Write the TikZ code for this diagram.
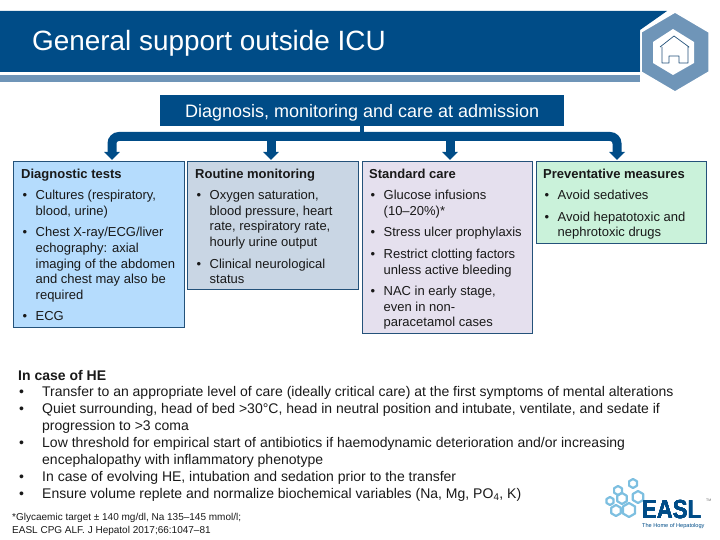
\documentclass[tikz,border=0pt]{standalone}
\usepackage{fontspec}
\setmainfont{Liberation Sans}
\usetikzlibrary{arrows.meta}
\definecolor{easldark}{HTML}{004C87}
\definecolor{easlmid}{HTML}{6F95B8}
\definecolor{easlsky}{HTML}{7DBFE0}
\definecolor{edgeblue}{HTML}{24527A}
\definecolor{diagfill}{HTML}{B5DCFD}
\definecolor{routinefill}{HTML}{C9D6E4}
\definecolor{standardfill}{HTML}{E5E0EE}
\definecolor{preventfill}{HTML}{CAF2DA}
\tikzset{>={Triangle[width=15.5pt,length=8pt]}}
\tikzset{
    panel/.style={draw=edgeblue, line width=0.9pt, anchor=north west, inner sep=0pt},
    paneltext/.style={anchor=north west, inner sep=0pt, font=\fontsize{13}{15.7}\selectfont, align=left, text=black!90},
    busline/.style={draw=easldark, line width=9pt},
    bodytext/.style={anchor=north west, inner sep=0pt, font=\fontsize{14}{16.9}\selectfont, align=left, text=black!90},
}
\setlength{\lineskip}{0pt}
\newcommand{\bitem}[2]{\makebox[14.5pt][l]{\hspace{1.5pt}\textbullet}\parbox[t]{#1}{\raggedright\strut #2\strut}}
\newcommand{\helist}[1]{\makebox[24pt][l]{\hspace{1pt}•}\parbox[t]{670pt}{\strut #1\strut}}
\newcommand{\heximg}[4]{\draw[#4] (#1,#2) ++(30:#3) -- ++(90:#3) -- ++(150:#3) -- ++(210:#3) -- ++(270:#3) -- ++(330:#3) -- cycle;}
\begin{document}
\begin{tikzpicture}[x=1pt,y=-1pt]
	\useasboundingbox (0,0) rectangle (720,540);
	% header
	\fill[easldark] (0,11) -- (667,11) -- (640,30) -- (640,72) -- (0,72) -- cycle;
	\fill[easlmid] (0,75) rectangle (640,82);
	\fill[easlmid, draw=white, line width=1.5pt] (675,12) -- (709,32) -- (709,72) -- (675,92) -- (641,72) -- (641,32) -- cycle;
	\fill[white] (673,29) -- (694,42) -- (694,63) -- (673,75) -- (653,63) -- (653,42) -- cycle;
	\draw[edgeblue, line width=0.7pt, line join=round] (660,47) -- (674,36) -- (689,47) -- (688,47) -- (688,63) -- (679,63) -- (679,56) -- (669,56) -- (669,63) -- (662,63) -- (662,47);
	\node[anchor=base west, inner sep=0pt, text=white, font=\fontsize{27.9}{30}\selectfont] (title) at (32,51) {General support outside ICU};
	% top box and arrows
	\node[fill=easldark, anchor=north west, inner sep=0pt, minimum width=404pt, minimum height=31pt, text=white, font=\fontsize{18}{21}\selectfont, text height=15pt, text depth=2pt] (admission) at (160,95) {Diagnosis, monitoring and care at admission};
	\coordinate (busleft) at (112,136.5);
	\coordinate (busright) at (617,136.5);
	\coordinate (endA) at (112,160);
	\coordinate (endB) at (271,160);
	\coordinate (endC) at (450,160);
	\coordinate (endD) at (617,160);
	\coordinate (stem) at (362,136.5);
	\draw[busline, rounded corners=7pt, ->] (busleft -| stem) -- (busleft) -- (endA);
	\draw[busline, rounded corners=7pt, ->] (busright -| stem) -- (busright) -- (endD);
	\draw[busline, ->] (busleft -| endB) -- (endB);
	\draw[busline, ->] (busleft -| endC) -- (endC);
	\draw[draw=easldark, line width=4pt] (admission.south -| stem) -- (stem);
	% four panels
	\node[panel, fill=diagfill, minimum width=171pt, minimum height=166pt] (diag) at (13,161) {};
	\node[panel, fill=routinefill, minimum width=171pt, minimum height=128pt] (routine) at (187,161) {};
	\node[panel, fill=standardfill, minimum width=170pt, minimum height=172pt] (standard) at (362,161) {};
	\node[panel, fill=preventfill, minimum width=170pt, minimum height=82pt] (prevent) at (536,161) {};
	\node[paneltext] (diagtxt) at (21,167) {\strut\textbf{Diagnostic tests}\strut\\[5.5pt]
		\bitem{145pt}{Cultures (respiratory,\\blood, urine)}\\[6pt]
		\bitem{145pt}{Chest X-ray/ECG/liver\\echography: axial\\imaging of the abdomen\\and chest may also be\\required}\\[5.5pt]
		\bitem{145pt}{ECG}};
	\node[paneltext] (routinetxt) at (195,167) {\strut\textbf{Routine monitoring}\strut\\[5.5pt]
		\bitem{145pt}{Oxygen saturation,\\blood pressure, heart\\rate, respiratory rate,\\hourly urine output}\\[6pt]
		\bitem{145pt}{Clinical neurological\\status}};
	\node[paneltext] (standardtxt) at (369,167) {\strut\textbf{Standard care}\strut\\[5.5pt]
		\bitem{145pt}{Glucose infusions\\(10–20\%)*}\\[6pt]
		\bitem{145pt}{Stress ulcer prophylaxis}\\[6pt]
		\bitem{145pt}{Restrict clotting factors\\unless active bleeding}\\[5.5pt]
		\bitem{145pt}{NAC in early stage,\\even in non-\\paracetamol cases}};
	\node[paneltext] (preventtxt) at (543,167) {\strut\textbf{Preventative measures}\strut\\[5.5pt]
		\bitem{145pt}{Avoid sedatives}\\[6pt]
		\bitem{145pt}{Avoid hepatotoxic and\\nephrotoxic drugs}};
	% HE list
	\node[bodytext] (hetxt) at (18,368) {\strut\textbf{In case of HE}\strut\\
		\helist{Transfer to an appropriate level of care (ideally critical care) at the first symptoms of mental alterations}\\
		\helist{Quiet surrounding, head of bed >30°C, head in neutral position and intubate, ventilate, and sedate if\\progression to >3 coma}\\
		\helist{Low threshold for empirical start of antibiotics if haemodynamic deterioration and/or increasing\\encephalopathy with inflammatory phenotype}\\
		\helist{In case of evolving HE, intubation and sedation prior to the transfer}\\
		\helist{Ensure volume replete and normalize biochemical variables (Na, Mg, PO\textsubscript{4}, K)}};
	\node[anchor=north west, inner sep=0pt, align=left, font=\fontsize{10}{13}\selectfont, text=black!90] (foot) at (12,513) {*Glycaemic target ± 140 mg/dl, Na 135–145 mmol/l;\\EASL CPG ALF. J Hepatol 2017;66:1047–81};
	% logo
	\foreach \hx/\hy/\hr in {633/479/4.5,618/486/4.5,638/491/6,622/493/5.5,610/497/4,629/503/7,616/505/5.5}
		\heximg{\hx}{\hy}{\hr}{easlsky, line width=2.2pt, line join=round}
	\node[anchor=base west, inner sep=0pt, text=easldark, font=\fontsize{26}{27}\bfseries\selectfont, xscale=0.85, transform shape] (easl) at (642,518) {EASL};
	\node[anchor=base west, inner sep=0pt, text=easldark, font=\fontsize{5.6}{6}\selectfont] (tagline) at (642,527) {The Home of Hepatology};
	\node[anchor=west, inner sep=0pt, text=black!60, font=\fontsize{3.5}{4}\selectfont] (tm) at (706,500) {TM};
\end{tikzpicture}
\end{document}
